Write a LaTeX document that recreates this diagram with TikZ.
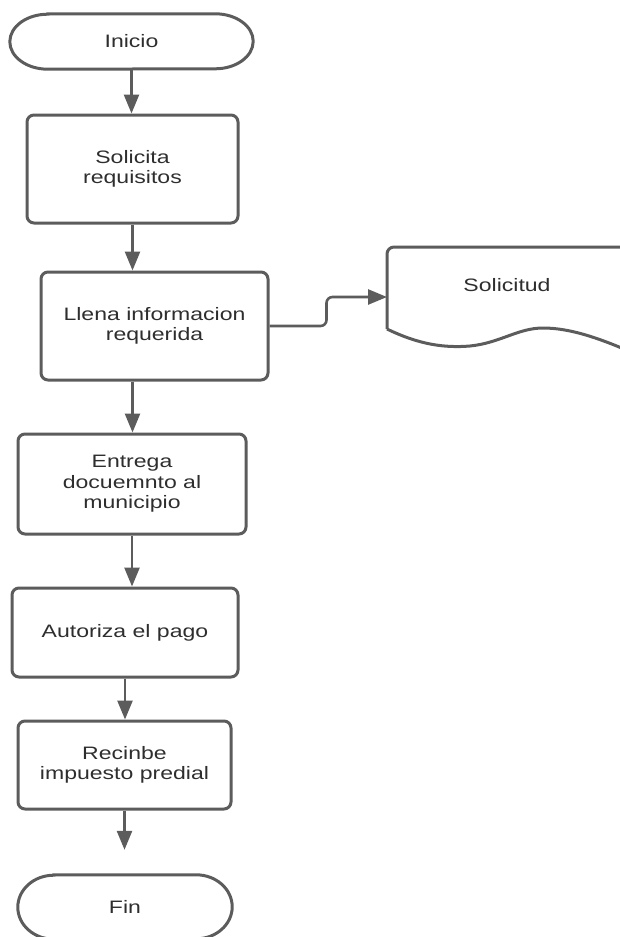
\documentclass[tikz,border=0pt]{standalone}
\usepackage{fontspec}
\setmainfont{Liberation Sans}[FakeStretch=1.28]
\usetikzlibrary{arrows.meta}
\definecolor{edge}{HTML}{5C5C5C}
\definecolor{ink}{HTML}{2E2E2E}
\tikzset{
  stepbox/.style={draw=edge, line width=3pt, rounded corners=7pt, inner sep=0pt,
    align=center, text=ink, font=\fontsize{18}{20.5}\selectfont},
  termtext/.style={inner sep=0pt, text=ink, font=\fontsize{18}{20.5}\selectfont},
  termline/.style={draw=edge, line width=3pt},
  flow/.style={draw=edge, line width=2.6pt, -{Triangle[length=19pt,width=15pt]}},
}
\begin{document}
\begin{tikzpicture}[x=1pt, y=-1pt]
\useasboundingbox (0,0) rectangle (620,937);
\clip (0,0) rectangle (620,937);

% terminals (text nodes with an oval outline)
\node[termtext, minimum width=243pt, minimum height=55pt] (ini) at (131.5,41.5) {Inicio};
\draw[termline] ([xshift=38pt]ini.north west) -- ([xshift=-38pt]ini.north east)
  arc[start angle=90, end angle=-90, x radius=38pt, y radius=27.5pt]
  -- ([xshift=38pt]ini.south west)
  arc[start angle=270, end angle=90, x radius=38pt, y radius=27.5pt] -- cycle;

\node[termtext, minimum width=214pt, minimum height=64pt] (fin) at (125,907) {Fin};
\draw[termline] ([xshift=36pt]fin.north west) -- ([xshift=-36pt]fin.north east)
  arc[start angle=90, end angle=-90, x radius=36pt, y radius=32pt]
  -- ([xshift=36pt]fin.south west)
  arc[start angle=270, end angle=90, x radius=36pt, y radius=32pt] -- cycle;

% process steps
\node[stepbox, minimum width=211pt, minimum height=108pt] (sol) at (132.5,169) {Solicita\\requisitos};
\node[stepbox, minimum width=227pt, minimum height=108pt] (llena) at (154.5,326) {Llena informacion\\requerida};
\node[stepbox, minimum width=228pt, minimum height=100pt] (ent) at (132,484) {Entrega\\docuemnto al\\municipio};
\node[stepbox, minimum width=226pt, minimum height=89pt] (aut) at (125,632.5) {Autoriza el pago};
\node[stepbox, minimum width=213pt, minimum height=88pt] (rec) at (124.5,765) {Recinbe\\impuesto predial};

% document
\node[termtext] (doc) at (507,285) {Solicitud};
\coordinate (docin) at (387,297);
\draw[termline, rounded corners=7pt] (640,247) -- (387,247) -- (387,329);
\draw[termline] (387,329) .. controls (420,345) and (445,348) .. (470,346)
  .. controls (500,343) and (518,328) .. (543,328)
  .. controls (570,328) and (600,338) .. (640,356);

% connectors
\draw[flow] (ini.south) -- (ini.south |- sol.north);
\draw[flow] (sol.south) -- (sol.south |- llena.north);
\draw[flow] (sol.south |- llena.south) -- (sol.south |- ent.north);
\draw[flow] (ent.south) -- (ent.south |- aut.north);
\draw[flow] (aut.south) -- (aut.south |- rec.north);
\draw[flow, shorten >=25pt] (rec.south) -- (rec.south |- fin.north);
\draw[flow, rounded corners=6pt] (llena.east) -- ++(57,0) |- (docin);
\end{tikzpicture}
\end{document}
